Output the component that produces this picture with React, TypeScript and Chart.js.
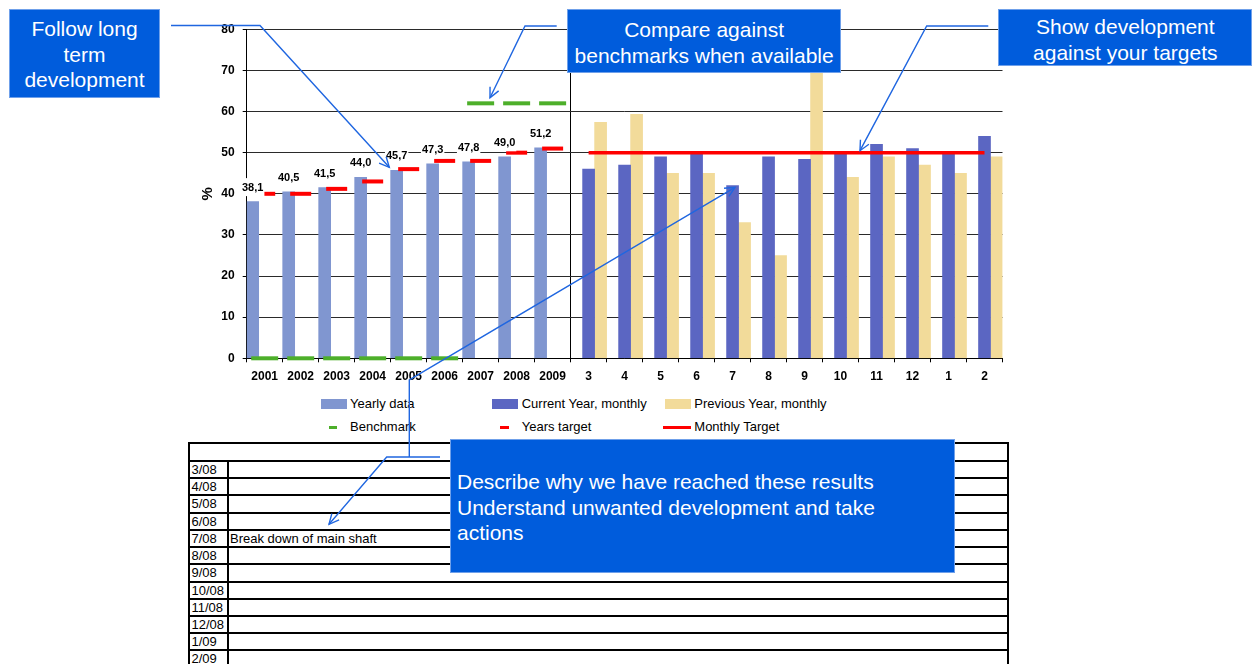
import React, { useEffect, useRef } from "react";
import { Chart, registerables } from "chart.js";

Chart.register(...registerables);

const FONT = '"Liberation Sans", Arial, Helvetica, sans-serif';

// ---- data ----
const categories = ["2001", "2002", "2003", "2004", "2005", "2006", "2007", "2008", "2009", "3", "4", "5", "6", "7", "8", "9", "10", "11", "12", "1", "2"];
const yearlyData = [38.1, 40.5, 41.5, 44.0, 45.7, 47.3, 47.8, 49.0, 51.2, null, null, null, null, null, null, null, null, null, null, null, null];
const currentYearMonthly = [null, null, null, null, null, null, null, null, null, 46, 47, 49, 50, 42, 49, 48.4, 50, 52, 51, 50, 54];
const previousYearMonthly = [null, null, null, null, null, null, null, null, null, 57.4, 59.3, 45, 45, 33, 25, 75, 44, 49, 47, 45, 49];
const benchmark = [0, 0, 0, 0, 0, 0, 62, 62, 62, null, null, null, null, null, null, null, null, null, null, null, null];
const yearsTarget = [40, 40, 41.2, 43, 46, 48, 48, 50, 51, null, null, null, null, null, null, null, null, null, null, null, null];
const monthlyTarget = [null, null, null, null, null, null, null, null, null, 50, 50, 50, 50, 50, 50, 50, 50, 50, 50, 50, 50];
const yMin = 0;
const yMax = 80;
const yStep = 10;
const tableRows = ["3/08", "4/08", "5/08", "6/08", "7/08", "8/08", "9/08", "10/08", "11/08", "12/08", "1/09", "2/09"];
const tableNotes = ["", "", "", "", "Break down of main shaft", "", "", "", "", "", "", ""];

const COLORS = {
  yearly: "#8096D0",
  current: "#5B66C2",
  previous: "#F2DB9A",
  benchmark: "#4DAF2A",
  red: "#FF0000",
  box: "#005CDC",
  boxBorder: "#6FA0EA",
  arrow: "#1F66E0",
};

const yearLabelPlugin = {
  id: "yearLabels",
  afterDatasetsDraw(chart: any) {
    const ctx = chart.ctx;
    const meta = chart.getDatasetMeta(0);
    ctx.save();
    ctx.font = `bold 11px ${FONT}`;
    ctx.textAlign = "center";
    ctx.textBaseline = "middle";
    meta.data.forEach((el: any, i: number) => {
      const v = yearlyData[i];
      if (v == null) return;
      const text = v.toFixed(1).replace(".", ",");
      const w = ctx.measureText(text).width;
      const cy = el.y - 14.5;
      ctx.fillStyle = "#fff";
      ctx.fillRect(el.x - w / 2 - 1, cy - 9, w + 2, 18);
      ctx.fillStyle = "#000";
      ctx.fillText(text, el.x, cy + 0.5);
    });
    ctx.restore();
  },
};

function ChartCanvas() {
  const ref = useRef<HTMLCanvasElement>(null);
  useEffect(() => {
    const chart = new Chart(ref.current as HTMLCanvasElement, {
      type: "bar",
      data: {
        labels: categories,
        datasets: [
          { type: "bar", label: "Yearly data", data: yearlyData, backgroundColor: COLORS.yearly, order: 1, barPercentage: 1, categoryPercentage: 1 },
          { type: "bar", label: "Current Year, monthly", data: currentYearMonthly, backgroundColor: COLORS.current, order: 1, barPercentage: 1, categoryPercentage: 1 },
          { type: "bar", label: "Previous Year, monthly", data: previousYearMonthly, backgroundColor: COLORS.previous, order: 1, barPercentage: 1, categoryPercentage: 1 },
          { type: "line", label: "Monthly Target", data: monthlyTarget, borderColor: COLORS.red, borderWidth: 3.5, pointRadius: 0, order: 0, clip: false } as any,
          { type: "line", label: "Benchmark", data: benchmark, showLine: false, pointStyle: "line", pointRadius: 13.5, pointBorderWidth: 4, borderColor: COLORS.benchmark, pointBorderColor: COLORS.benchmark, order: 0, clip: false } as any,
          { type: "line", label: "Years target", data: yearsTarget, showLine: false, pointStyle: "line", pointRadius: 10.5, pointBorderWidth: 4, borderColor: COLORS.red, pointBorderColor: COLORS.red, order: 0, clip: false } as any,
        ],
      },
      options: {
        responsive: false,
        animation: false,
        devicePixelRatio: 1,
        events: [],
        layout: { padding: { left: 0, top: 29.3, right: 15.7, bottom: 0 } },
        plugins: { legend: { display: false }, tooltip: { enabled: false }, title: { display: false } },
        scales: {
          x: {
            offset: true,
            grid: {
              offset: true,
              color: (c: any) => (c.index === 9 ? "#000" : "rgba(0,0,0,0)"),
              lineWidth: 1,
              drawTicks: true,
              tickLength: 4,
              tickColor: "#000",
            },
            border: { display: true, color: "#000", width: 1 },
            ticks: { color: "#000", font: { family: FONT, size: 12, weight: "bold" }, padding: 7, maxRotation: 0, autoSkip: false },
            afterFit: (s: any) => { s.height = 33.7; },
          },
          y: {
            min: yMin,
            max: yMax,
            ticks: { stepSize: yStep, color: "#000", font: { family: FONT, size: 12, weight: "bold" }, padding: 8 },
            grid: { color: "#2a2a2a", lineWidth: 1, tickLength: 4, tickColor: "#000" },
            border: { display: true, color: "#000", width: 1 },
            title: { display: true, text: "%", color: "#000", font: { family: FONT, size: 15, weight: "bold" }, padding: { top: 9, bottom: 0 } },
            afterFit: (s: any) => { s.width = 56.7; },
          },
        },
      } as any,
      plugins: [yearLabelPlugin],
    });
    return () => chart.destroy();
  }, []);
  return <canvas ref={ref} width={830} height={392} style={{ position: "absolute", left: 190, top: 0, width: 830, height: 392 }} />;
}

type Connector = number[][];
const connectors: Connector[] = [
  [[171, 25.5], [260, 25.5], [389.3, 167.3]],
  [[556.7, 26], [525, 26], [490, 97.7]],
  [[988.3, 26], [926.7, 26], [860, 150.7]],
  [[440, 457], [386.7, 457], [329, 524.3]],
  [[409.3, 457], [409.3, 380], [735, 187.3]],
];

function arrowHead(pts: Connector) {
  const [qx, qy] = pts[pts.length - 2];
  const [px, py] = pts[pts.length - 1];
  const a = Math.atan2(py - qy, px - qx);
  const L = 11;
  const t = 0.45;
  return `M${px - L * Math.cos(a - t)},${py - L * Math.sin(a - t)} L${px},${py} L${px - L * Math.cos(a + t)},${py - L * Math.sin(a + t)}`;
}

const boxes = [
  { left: 9, top: 9.3, width: 151, height: 88.4, lines: ["Follow long", "term", "development"], align: "center", padTop: 6.8, padLeft: 0 },
  { left: 567.3, top: 9.3, width: 273.7, height: 63.4, lines: ["Compare against", "benchmarks when available"], align: "center", padTop: 7.8, padLeft: 0 },
  { left: 998.3, top: 9.3, width: 254, height: 56.7, lines: ["Show development", "against your targets"], align: "center", padTop: 4.8, padLeft: 0 },
  { left: 450, top: 439.3, width: 505, height: 133.4, lines: ["Describe why we have reached these results", "Understand unwanted development and take", "actions"], align: "left", padTop: 30.2, padLeft: 6 },
];

const legendItems = [
  { kind: "box", color: COLORS.yearly, x: 320.7, w: 26, y: 404, label: "Yearly data", tx: 350 },
  { kind: "box", color: COLORS.current, x: 492, w: 26, y: 404, label: "Current Year, monthly", tx: 521.7 },
  { kind: "box", color: COLORS.previous, x: 665, w: 25.7, y: 404, label: "Previous Year, monthly", tx: 694.3 },
  { kind: "line", color: COLORS.benchmark, x: 329.3, w: 7.4, y: 427, label: "Benchmark", tx: 350 },
  { kind: "line", color: COLORS.red, x: 500, w: 9, y: 427, label: "Years target", tx: 521.7 },
  { kind: "line", color: COLORS.red, x: 663.3, w: 27.4, y: 427, label: "Monthly Target", tx: 694.3 },
];

function Table() {
  const left = 188.3;
  const right = 1008.5;
  const topLine = 442.3;
  const firstRow = 460;
  const pitch = 17.22;
  const els: any[] = [];
  els.push(<div key="t" style={{ position: "absolute", left, top: topLine, width: right - left, height: 2, background: "#000" }} />);
  els.push(<div key="l" style={{ position: "absolute", left, top: topLine, width: 2, height: 664 - topLine, background: "#000" }} />);
  els.push(<div key="r" style={{ position: "absolute", left: right - 2, top: topLine, width: 2, height: 664 - topLine, background: "#000" }} />);
  els.push(<div key="c" style={{ position: "absolute", left: 226.7, top: firstRow, width: 2, height: 664 - firstRow, background: "#000" }} />);
  tableRows.forEach((r, i) => {
    const y = firstRow + i * pitch;
    els.push(<div key={"h" + i} style={{ position: "absolute", left, top: y, width: right - left, height: 2, background: "#000" }} />);
    els.push(
      <div key={"a" + i} style={{ position: "absolute", left: 191.5, top: y + 2, height: pitch - 2, lineHeight: `${pitch - 2}px`, fontSize: 13, color: "#000", whiteSpace: "nowrap" }}>{r}</div>
    );
    if (tableNotes[i]) {
      els.push(
        <div key={"n" + i} style={{ position: "absolute", left: 230, top: y + 2, height: pitch - 2, lineHeight: `${pitch - 2}px`, fontSize: 13, color: "#000", whiteSpace: "nowrap" }}>{tableNotes[i]}</div>
      );
    }
  });
  return <>{els}</>;
}

export default function App() {
  return (
    <div style={{ position: "absolute", left: 0, top: 0, width: 1253, height: 664, overflow: "hidden", background: "#fff", fontFamily: FONT }}>
      <ChartCanvas />
      {legendItems.map((it, i) => (
        <React.Fragment key={i}>
          <div style={{ position: "absolute", left: it.x, top: it.kind === "box" ? it.y - 5 : it.y - 1.5, width: it.w, height: it.kind === "box" ? 10 : 3, background: it.color }} />
          <div style={{ position: "absolute", left: it.tx, top: it.y - 8, lineHeight: "16px", fontSize: 13, color: "#000", whiteSpace: "nowrap" }}>{it.label}</div>
        </React.Fragment>
      ))}
      <Table />
      <svg width={1253} height={664} style={{ position: "absolute", left: 0, top: 0, pointerEvents: "none" }}>
        {connectors.map((pts, i) => (
          <g key={i} fill="none" stroke={COLORS.arrow} strokeWidth={1.4}>
            <polyline points={pts.map((p) => p.join(",")).join(" ")} />
            <path d={arrowHead(pts)} />
          </g>
        ))}
      </svg>
      {boxes.map((b, i) => (
        <div key={i} style={{ position: "absolute", left: b.left, top: b.top, width: b.width, height: b.height, boxSizing: "border-box", background: COLORS.box, border: `1px solid ${COLORS.boxBorder}`, color: "#fff", fontSize: 21, lineHeight: "25.5px", textAlign: b.align as any, paddingTop: b.padTop - 1, paddingLeft: b.padLeft, whiteSpace: "nowrap" }}>
          {b.lines.map((l, j) => (
            <div key={j}>{l}</div>
          ))}
        </div>
      ))}
    </div>
  );
}
